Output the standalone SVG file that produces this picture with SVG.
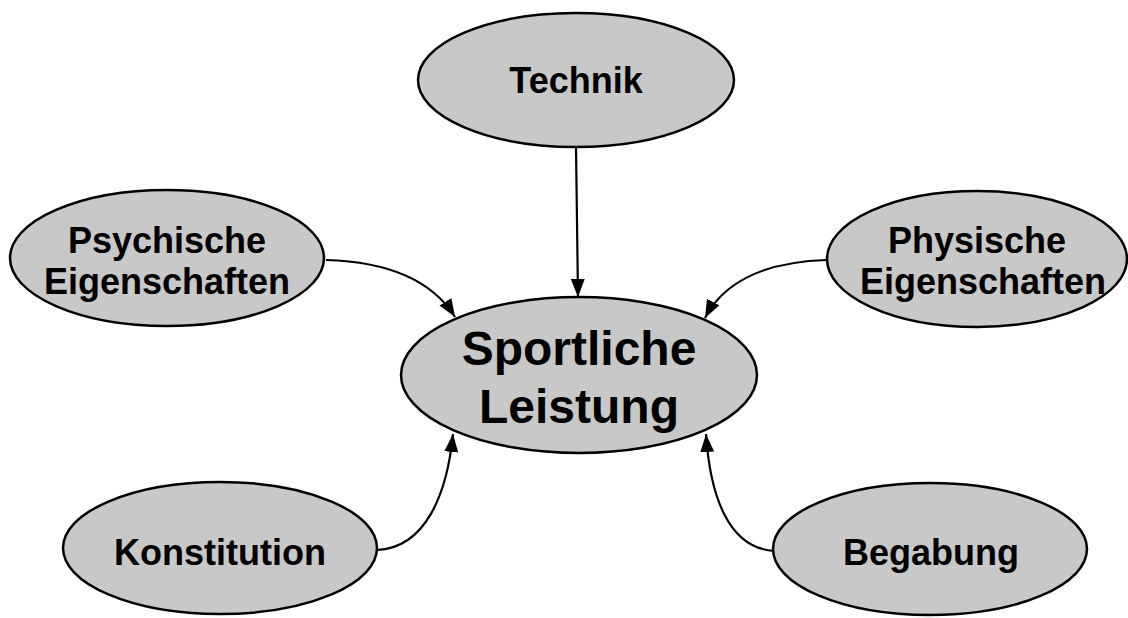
<svg xmlns="http://www.w3.org/2000/svg" width="1128" height="618" viewBox="0 0 1128 618">
<style>
.node ellipse{fill:#c8c8c8;stroke:#000;stroke-width:2.5}
.node text{font-family:"Liberation Sans",Arial,sans-serif;font-weight:bold;font-size:36px;text-anchor:middle;fill:#000}
.node text.big{font-size:48px}
.conn path{fill:none;stroke:#000;stroke-width:2.2;marker-end:url(#arr)}
</style>
<defs>
<marker id="arr" markerUnits="userSpaceOnUse" markerWidth="20" markerHeight="20" viewBox="0 0 20 20" refX="18" refY="10" orient="auto">
<path d="M0,3 L18,10 L0,17 Z" fill="#000"/>
</marker>
</defs>
<rect width="1128" height="618" fill="#fff"/>
<g class="conn">
<path d="M576,147 L578,297"/>
<path d="M326,260 C395,262 435,285 455,317"/>
<path d="M827,260 C760,262 722,285 705,318"/>
<path d="M377,550 C425,548 447,495 453,434"/>
<path d="M774,551 C728,548 710,495 706,434"/>
</g>
<g id="technik" class="node">
<ellipse cx="576" cy="80" rx="158" ry="67"/>
<text x="576" y="93">Technik</text>
</g>
<g id="psychische" class="node">
<ellipse cx="167" cy="258" rx="157" ry="68"/>
<text x="167" y="253">Psychische</text>
<text x="167" y="294">Eigenschaften</text>
</g>
<g id="physische" class="node">
<ellipse cx="977" cy="259" rx="150" ry="68"/>
<text x="977" y="253">Physische</text>
<text x="983" y="294">Eigenschaften</text>
</g>
<g id="sportliche" class="node">
<ellipse cx="579" cy="375" rx="178" ry="78"/>
<text class="big" x="579" y="365">Sportliche</text>
<text class="big" x="579" y="423">Leistung</text>
</g>
<g id="konstitution" class="node">
<ellipse cx="220" cy="548" rx="157" ry="66"/>
<text x="220" y="565">Konstitution</text>
</g>
<g id="begabung" class="node">
<ellipse cx="930" cy="549" rx="157" ry="66"/>
<text x="931" y="565">Begabung</text>
</g>
</svg>
